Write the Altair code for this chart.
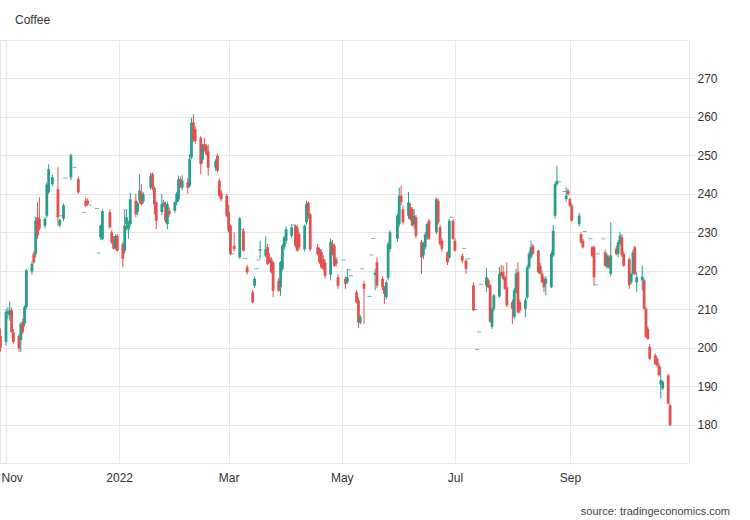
import altair as alt
import pandas as pd

# ---- data (Coffee, daily OHLC) ----
dates = [
    "2021-10-29", "2021-11-01", "2021-11-02", "2021-11-03", "2021-11-04", "2021-11-05",
    "2021-11-08", "2021-11-09", "2021-11-10", "2021-11-11", "2021-11-12",
    "2021-11-15", "2021-11-16", "2021-11-17", "2021-11-18", "2021-11-19",
    "2021-11-22", "2021-11-23", "2021-11-24", "2021-11-26", "2021-11-29", "2021-11-30",
    "2021-12-01", "2021-12-02", "2021-12-03", "2021-12-06", "2021-12-08", "2021-12-10",
    "2021-12-13", "2021-12-14", "2021-12-15", "2021-12-16", "2021-12-20", "2021-12-21",
    "2021-12-22", "2021-12-23", "2021-12-27", "2021-12-28", "2021-12-29", "2021-12-30",
    "2021-12-31",
    "2022-01-03", "2022-01-04", "2022-01-05", "2022-01-06", "2022-01-07",
    "2022-01-10", "2022-01-11", "2022-01-12", "2022-01-13", "2022-01-14",
    "2022-01-18", "2022-01-19", "2022-01-20", "2022-01-21",
    "2022-01-24", "2022-01-25", "2022-01-26", "2022-01-27", "2022-01-28",
    "2022-01-31", "2022-02-01", "2022-02-02", "2022-02-03", "2022-02-04",
    "2022-02-07", "2022-02-08", "2022-02-09", "2022-02-10", "2022-02-11",
    "2022-02-14", "2022-02-15", "2022-02-16", "2022-02-17", "2022-02-18",
    "2022-02-22", "2022-02-23", "2022-02-24", "2022-02-25",
    "2022-02-28", "2022-03-01", "2022-03-02", "2022-03-03", "2022-03-04",
    "2022-03-07", "2022-03-08", "2022-03-09", "2022-03-10", "2022-03-11",
    "2022-03-14", "2022-03-15", "2022-03-16", "2022-03-17", "2022-03-18",
    "2022-03-21", "2022-03-22", "2022-03-23", "2022-03-24", "2022-03-25",
    "2022-03-28", "2022-03-29", "2022-03-30", "2022-03-31", "2022-04-01",
    "2022-04-04", "2022-04-05", "2022-04-06", "2022-04-07", "2022-04-08",
    "2022-04-11", "2022-04-12", "2022-04-13", "2022-04-14",
    "2022-04-18", "2022-04-19", "2022-04-20", "2022-04-21", "2022-04-22",
    "2022-04-25", "2022-04-26", "2022-04-27", "2022-04-28", "2022-04-29",
    "2022-05-02", "2022-05-03", "2022-05-04", "2022-05-05", "2022-05-06",
    "2022-05-09", "2022-05-10", "2022-05-11", "2022-05-12", "2022-05-13",
    "2022-05-16", "2022-05-17", "2022-05-18", "2022-05-19", "2022-05-20",
    "2022-05-23", "2022-05-24", "2022-05-25", "2022-05-26", "2022-05-27",
    "2022-05-31", "2022-06-01", "2022-06-02", "2022-06-03",
    "2022-06-06", "2022-06-07", "2022-06-08", "2022-06-09", "2022-06-10",
    "2022-06-13", "2022-06-14", "2022-06-15", "2022-06-16", "2022-06-17",
    "2022-06-21", "2022-06-22", "2022-06-23", "2022-06-24",
    "2022-06-27", "2022-06-28", "2022-06-29", "2022-06-30", "2022-07-01",
    "2022-07-05", "2022-07-06", "2022-07-07", "2022-07-08",
    "2022-07-11", "2022-07-12", "2022-07-13", "2022-07-14", "2022-07-15",
    "2022-07-18", "2022-07-19", "2022-07-20", "2022-07-21", "2022-07-22",
    "2022-07-25", "2022-07-26", "2022-07-27", "2022-07-28", "2022-07-29",
    "2022-08-01", "2022-08-02", "2022-08-03", "2022-08-04", "2022-08-05",
    "2022-08-08", "2022-08-09", "2022-08-10", "2022-08-11", "2022-08-12",
    "2022-08-15", "2022-08-16", "2022-08-17", "2022-08-18", "2022-08-19",
    "2022-08-22", "2022-08-23", "2022-08-24", "2022-08-25", "2022-08-26",
    "2022-08-29", "2022-08-30", "2022-08-31", "2022-09-01", "2022-09-02",
    "2022-09-06", "2022-09-07", "2022-09-08", "2022-09-09",
    "2022-09-12", "2022-09-13", "2022-09-14", "2022-09-15", "2022-09-16",
    "2022-09-19", "2022-09-20", "2022-09-21", "2022-09-22", "2022-09-23",
    "2022-09-26", "2022-09-27", "2022-09-28", "2022-09-29", "2022-09-30",
    "2022-10-03", "2022-10-04", "2022-10-05", "2022-10-06", "2022-10-07",
    "2022-10-10", "2022-10-11", "2022-10-12", "2022-10-13", "2022-10-14",
    "2022-10-17", "2022-10-18", "2022-10-19", "2022-10-20", "2022-10-21",
    "2022-10-24", "2022-10-25",
]

opens = [
    203, 201.5, 208.8, 208.5, 209.7, 204,
    203, 202, 206.7, 206.2, 210.5,
    219.8, 224.4, 224.4, 233.9, 233.5,
    231.7, 234.3, 240.4, 242.5, 241.2, 231.8,
    234.3, 233.5, 244.1, 244.3, 246.9, 243.8,
    235.2, 238.2, 238.2, 237.1, 236.2, 224.6,
    228.7, 228.2, 235.2, 230, 228.2, 226,
    229.1,
    227, 225.2, 232.1, 230.8, 232.1,
    238.2, 235.3, 238.2, 240.3, 238,
    241.6, 245.1, 241.6, 237.8,
    235.3, 237, 237.3, 232.1, 235.6,
    235.6, 237.8, 238.6, 243.8, 241.6,
    243, 242.1, 249.4, 258.5, 256.8,
    254.6, 248.9, 252.9, 252.4, 251,
    246.8, 249.9, 243.4, 240.3,
    239.5, 235.2, 231.7, 224.4, 226.5,
    223.5, 230.7, 230.4, 223.2, 220.9,
    214.4, 216.1, 220.5, 222.8, 225.2,
    223.9, 226.1, 223.5, 223, 222.2,
    217.4, 215.7, 220.5, 226.1, 227.8,
    229.1, 231.9, 231.7, 231.3, 229.5,
    225.6, 232.6, 237.7, 234.7,
    226.1, 225.6, 224.8, 223, 222.2,
    219, 227, 226.5, 223, 218.3,
    222.8, 217.9, 217, 220.2, 218.7,
    214.4, 212.3, 206.5, 220.5, 216.6,
    213.3, 224.1, 228.4, 218.9, 222.2,
    217.9, 215.7, 213.1, 218.1, 225.7,
    228.3, 232.1, 239.5, 236,
    234.3, 236.5, 236, 232, 233.9,
    227.4, 224, 226.1, 228.7, 233,
    230, 238.2, 231.3, 227.8,
    224.8, 223.5, 233.9, 233, 227.8,
    223.9, 225.8, 222.6, 223.1,
    216.2, 209.9, 199.5, 204.1, 216.5,
    216.2, 217.5, 216.2, 205.4, 210.1,
    213.3, 219.6, 219.6, 218.3, 215.7,
    211.8, 208, 214.4, 219.6, 211.8,
    210.1, 213.1, 220.9, 223.5, 226.5,
    225.2, 221.3, 219.2, 217.9, 216.6,
    215.7, 224, 234.3, 242.5, 243.1,
    240.6, 238.6, 240.8, 238.6, 236.9,
    232.1, 229.5, 227.8, 230.2,
    228.3, 226.1, 226.1, 216.3, 224.4,
    228.3, 224.8, 221, 223.5, 219.2,
    225.7, 224.4, 227, 228.7, 224.4,
    223, 217, 219.2, 226.1, 217,
    217.5, 217.5, 210.1, 204.9, 200.2,
    198, 197.1, 195.4, 190.4, 189.4,
    192.8, 185,
]

highs = [
    205, 210, 210.5, 212, 210.5, 204.8,
    203.5, 206.6, 207.5, 211, 220.5,
    222.5, 225, 234, 237.8, 239.1,
    234, 243, 247.7, 245, 246.9, 233.5,
    234.3, 237.5, 244.1, 250.5, 246.9, 244.5,
    235.2, 239, 238.8, 237.1, 236.2, 224.6,
    232, 236, 236, 230.5, 229, 229.5,
    229.5,
    227.5, 236, 236, 233, 240.3,
    240, 238, 245.1, 242.5, 240.5,
    245.5, 245.5, 242, 238,
    240, 238.5, 238, 237.8, 236.5,
    238, 240.5, 244.7, 244.5, 244.8,
    244, 250.3, 259.8, 260.7, 257.5,
    255, 253, 254.6, 253, 252.8,
    249, 250.5, 244, 241,
    240, 237.1, 232, 224.4, 230,
    234, 230.7, 231, 223.2, 221.5,
    215, 218.5, 220.5, 222.8, 227.8,
    229, 227, 224.5, 223.5, 222.5,
    218, 222.5, 227, 229, 231.5,
    232, 231.9, 232, 232, 230,
    232, 238.2, 238, 235,
    227, 226, 225.5, 224, 223,
    228.4, 228, 227, 223.5, 219,
    222.8, 218.5, 220.5, 220.2, 218.7,
    215, 213, 208.5, 220.5, 217.4,
    213.3, 224.1, 228.4, 220.5, 223.5,
    218.5, 216, 217.5, 227.5, 230.5,
    234.8, 241.6, 242.1, 237,
    240.5, 237.5, 236.5, 236, 234.5,
    228, 227.5, 230, 232.5, 233.5,
    239, 238.8, 232, 228.5,
    225, 233.5, 233.9, 233.5, 228.5,
    224.5, 225.8, 223, 223.1,
    217, 209.9, 199.5, 204.1, 216.5,
    220.7, 218, 216.5, 210.5, 214,
    221, 221.5, 221.3, 218.8, 222.2,
    212.5, 215.5, 220.5, 222.2, 212.5,
    213, 221.5, 225, 227.8, 227,
    225.5, 222, 220, 218.5, 218.5,
    225, 231.9, 243, 247.3, 243.1,
    240.6, 241.7, 241.3, 239, 237.5,
    235, 230, 228.3, 230.2,
    228.3, 226.5, 226.5, 216.3, 224.4,
    228.3, 225.5, 224.5, 224, 232.6,
    226.5, 228, 230, 229.5, 225,
    223.5, 219.5, 225.5, 226.5, 219.6,
    221.3, 218, 210.5, 205.5, 201,
    198.5, 197.6, 196, 195, 191.5,
    193.2, 185.5,
]

lows = [
    199, 200.5, 207.5, 207, 203.8, 201,
    198.9, 198.9, 203.5, 205.5, 210,
    219, 221.8, 223.5, 228.3, 230.5,
    231, 233.8, 240, 242, 231.7, 231.3,
    234.3, 233, 244.1, 243.5, 246.9, 240,
    235.2, 236.5, 237, 237.1, 236.2, 224.6,
    228, 228, 231, 227, 225.5, 225.5,
    225,
    220.9, 224.5, 230.5, 228.3, 231.5,
    234, 234.5, 237.5, 237, 237.5,
    241, 241, 234.7, 230.8,
    234.5, 236.5, 232.5, 230.8, 234,
    235, 237, 238, 241.5, 241,
    240, 241.6, 249, 253.5, 253,
    245.1, 248, 251, 250, 244.7,
    246, 245.5, 239, 238,
    234, 230, 224, 224.4, 225,
    223, 230.7, 225, 223.2, 219,
    211.5, 215.5, 220.5, 222.8, 223.1,
    223.5, 221.5, 222, 219.3, 213.1,
    214.5, 213.5, 220, 225.5, 227,
    228.5, 231.9, 226, 225, 225.5,
    225, 232, 233.5, 225,
    224, 221.8, 220.5, 220, 218,
    217.5, 224, 221, 221, 215.3,
    222.8, 215.3, 216.5, 220.2, 218.7,
    211.5, 205.1, 206, 220.5, 206.2,
    213.3, 224.1, 228.4, 214.9, 215.5,
    215, 211.4, 212.5, 217.5, 225,
    227.5, 231.5, 237, 232,
    233.5, 233, 231.5, 231, 228.5,
    219.2, 223, 225.5, 228, 228,
    229.5, 232, 226.5, 225,
    221.5, 223, 233.9, 228, 225,
    222, 225.8, 219.2, 223.1,
    209.5, 209.9, 199.5, 204.1, 216.5,
    214.5, 215.5, 206.5, 204.9, 209.5,
    213, 218.5, 217.5, 215, 210.5,
    206.2, 207.5, 214, 208.8, 209,
    207.9, 212.5, 220.5, 223, 224,
    219.3, 219, 216.8, 214.4, 213.6,
    215.5, 223.5, 233.5, 242, 243.1,
    240.6, 238, 239.5, 236.5, 232.8,
    231.5, 227, 225.8, 230.2,
    228.3, 223.5, 216.2, 216.3, 224.4,
    228.3, 221, 220.5, 220.5, 218.5,
    224, 223.5, 226.5, 223.5, 221,
    215.3, 216.5, 218.8, 218.8, 214.4,
    214.9, 209.8, 202.5, 202, 196.8,
    195.5, 195, 192.5, 186.8, 189,
    185.2, 179.6,
]

closes = [
    200, 209.3, 209.5, 209.7, 204.1, 201.5,
    199.8, 206.2, 204.1, 210.5, 220.1,
    221.8, 222.2, 233, 229.2, 230.9,
    233.5, 242.4, 246.4, 244.3, 233.9, 233.2,
    234.3, 237, 244.1, 250, 246.9, 240.4,
    235.2, 236.9, 237.4, 237.1, 236.2, 224.6,
    231.7, 235.5, 231.3, 227.4, 225.7, 229,
    225.2,
    223.1, 231.7, 233.9, 232.1, 238.6,
    234.7, 237.5, 240.8, 237.3, 239.8,
    244.6, 241.6, 237.3, 233,
    237.3, 237.8, 233, 237.3, 234.7,
    237.8, 240, 243.8, 242.1, 243.4,
    241.6, 249, 258.5, 254.2, 253.7,
    247.7, 252.4, 251.6, 250.3, 246.8,
    248.5, 246, 239.5, 238.6,
    234.3, 230.4, 224.4, 224.4, 225.6,
    233.6, 230.7, 225.2, 223.2, 219.6,
    211.8, 217.9, 220.5, 222.8, 225.6,
    225.6, 221.8, 222.2, 219.6, 214.8,
    214.8, 222.2, 226.5, 228.7, 230.8,
    231.3, 231.9, 226.5, 225.2, 226.1,
    231.7, 237.3, 234.3, 225.6,
    224.4, 222.2, 220.9, 220.5, 218.7,
    227.5, 224.5, 221.3, 221.8, 216.1,
    222.8, 216.6, 218.3, 220.2, 218.7,
    211.8, 206.6, 207.9, 220.5, 215.3,
    213.3, 224.1, 228.4, 219.5, 216.1,
    215.7, 214, 217, 226.9, 230,
    234.3, 239.5, 237.8, 232.6,
    237.8, 233.4, 231.8, 234.3, 229.1,
    223.5, 227, 229.5, 232.1, 228.3,
    238.6, 232.6, 227, 225.7,
    222.2, 233, 233.9, 228.3, 225.2,
    222.6, 225.8, 220.5, 223.1,
    209.7, 209.9, 199.5, 204.1, 216.5,
    218.3, 215.7, 206.7, 210.1, 213.6,
    219.2, 218.7, 217.9, 215.3, 211,
    210.1, 214.9, 219.2, 209.2, 209.7,
    212.3, 220.9, 224.4, 226.1, 224.4,
    219.6, 219.2, 217, 215.7, 217.9,
    224.4, 230.4, 242.5, 243.4, 243.1,
    240.6, 239.5, 239.9, 236.9, 233,
    234.3, 227.4, 226.1, 230.2,
    228.3, 223.9, 218.3, 216.3, 224.4,
    228.3, 221.3, 224, 220.9, 224,
    224.4, 227.4, 229.1, 224, 221.3,
    216.2, 219.2, 224.8, 219.2, 218.3,
    218.5, 210.1, 202.8, 202.3, 197.1,
    195.8, 195.4, 192.8, 191.5, 191.1,
    185.5, 179.9,
]

y_ticks = [180, 190, 200, 210, 220, 230, 240, 250, 260, 270]

GREEN = "#2a9d8c"
RED = "#e05252"
GRID = "#e6e6e6"
TEXT = "#333333"
FONT = "Liberation Sans"

df = pd.DataFrame({"date": dates, "open": opens, "high": highs, "low": lows, "close": closes})
df["dir"] = ["up" if c >= o else "down" for o, c in zip(opens, closes)]

x_ticks = [
    alt.DateTime(year=2021, month=11, date=1, utc=True),
    alt.DateTime(year=2022, month=1, date=1, utc=True),
    alt.DateTime(year=2022, month=3, date=1, utc=True),
    alt.DateTime(year=2022, month=5, date=1, utc=True),
    alt.DateTime(year=2022, month=7, date=1, utc=True),
    alt.DateTime(year=2022, month=9, date=1, utc=True),
]

x_axis = alt.Axis(
    values=x_ticks,
    labelExpr="utcFormat(datum.value, '%m') == '01' ? utcFormat(datum.value, '%Y') : utcFormat(datum.value, '%b')",
    grid=True, gridColor=GRID, domain=False, ticks=False,
    labelPadding=9, labelFontSize=12, labelColor=TEXT, labelFont=FONT,
    labelFlush=10, labelFlushOffset=5, title=None,
)
y_axis = alt.Axis(
    orient="right", values=y_ticks, grid=True, gridColor=GRID,
    domain=False, ticks=True, tickColor=GRID, tickSize=6,
    labelPadding=2, labelFontSize=12, labelColor=TEXT, labelFont=FONT, title=None,
)

x_enc = alt.X(
    "date:T",
    scale=alt.Scale(
        type="utc",
        padding=0,
        domain=[
            alt.DateTime(year=2021, month=10, date=28, hours=18, minutes=23, utc=True),
            alt.DateTime(year=2022, month=11, date=4, hours=4, minutes=48, utc=True),
        ],
    ),
    axis=x_axis,
)
y_scale = alt.Scale(domain=[170, 280], nice=False, zero=False, padding=0)
color_enc = alt.Color(
    "dir:N", scale=alt.Scale(domain=["up", "down"], range=[GREEN, RED]), legend=None
)

base = alt.Chart(df)

wicks = base.mark_rule(strokeWidth=1).encode(
    x=x_enc,
    y=alt.Y("low:Q", scale=y_scale, axis=y_axis),
    y2="high:Q",
    color=color_enc,
)
bodies = base.transform_filter("datum.open != datum.close").mark_bar(size=2.8).encode(
    x=x_enc,
    y=alt.Y("open:Q", scale=y_scale, axis=y_axis),
    y2="close:Q",
    color=color_enc,
)
dashes = base.transform_filter("datum.open == datum.close").mark_tick(
    orient="horizontal", size=4, thickness=1
).encode(
    x=x_enc,
    y=alt.Y("close:Q", scale=y_scale, axis=y_axis),
    color=color_enc,
)

title_txt = alt.Chart(pd.DataFrame({"t": ["Coffee"]})).mark_text(
    align="left", baseline="middle", fontSize=12, font=FONT, color=TEXT
).encode(text="t:N", x=alt.value(15), y=alt.value(-20))

source_txt = alt.Chart(pd.DataFrame({"t": ["source: tradingeconomics.com"]})).mark_text(
    align="right", baseline="middle", fontSize=11, font=FONT, color="#444444"
).encode(text="t:N", x=alt.value(730), y=alt.value(472))

chart = (
    alt.layer(wicks, bodies, dashes, title_txt, source_txt)
    .properties(
        width=689, height=423, autosize="none",
        padding={"left": 0, "top": 40, "right": 61, "bottom": 57},
        background="white",
    )
    .configure_view(stroke=GRID, strokeWidth=1)
)

chart.save("out.html", embed_options={"renderer": "svg", "actions": False})
